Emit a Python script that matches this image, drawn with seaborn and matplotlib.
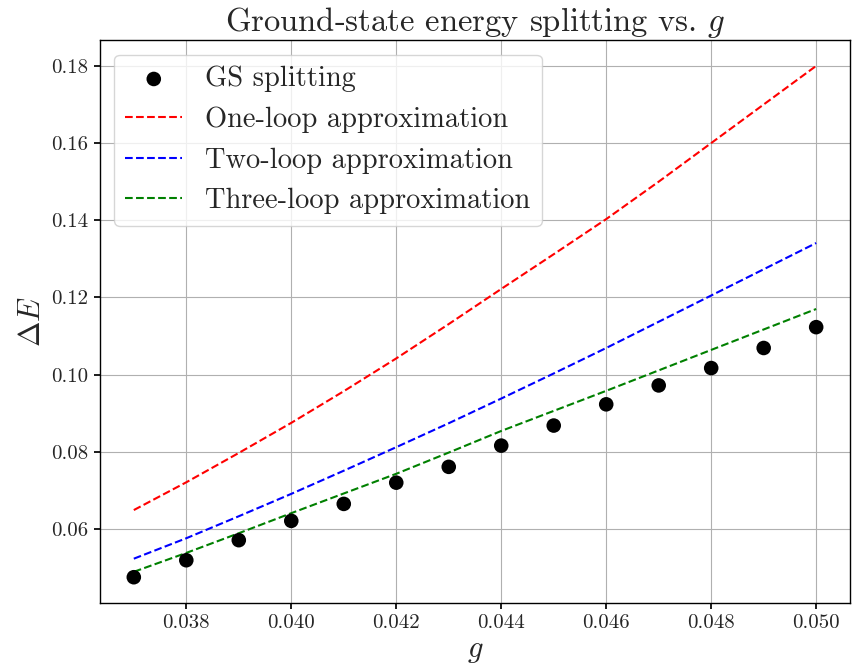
import numpy as np
import pandas as pd
import matplotlib
matplotlib.use('Agg')
import matplotlib.pyplot as plt
import seaborn as sns

# coupling values
g_values = [0.037, 0.038, 0.039, 0.040, 0.041, 0.042, 0.043,
            0.044, 0.045, 0.046, 0.047, 0.048, 0.049, 0.050]

# numerically obtained ground-state splitting
gs_splitting = [0.0475, 0.0519, 0.0571, 0.0621, 0.0665, 0.0720, 0.0761,
                0.0816, 0.0868, 0.0923, 0.0972, 0.1017, 0.1069, 0.1123]

# perturbative approximations
one_loop = [0.0649, 0.0721, 0.0797, 0.0875, 0.0957, 0.1042, 0.1131,
            0.1222, 0.1312, 0.1403, 0.1500, 0.1600, 0.1700, 0.1800]
two_loop = [0.0523, 0.0576, 0.0633, 0.0691, 0.0751, 0.0812, 0.0874,
            0.0938, 0.1003, 0.1069, 0.1137, 0.1205, 0.1273, 0.1341]
three_loop = [0.0489, 0.0538, 0.0589, 0.0641, 0.0692, 0.0743, 0.0798,
              0.0854, 0.0906, 0.0958, 0.1011, 0.1064, 0.1117, 0.1170]

df = pd.DataFrame({
    "g": g_values,
    "gs": gs_splitting,
    "one": one_loop,
    "two": two_loop,
    "three": three_loop,
})

sns.set_theme(style="ticks")
plt.rcParams['font.family'] = ['cmr10', 'DejaVu Serif']
plt.rcParams['mathtext.fontset'] = 'cm'
plt.rcParams['axes.unicode_minus'] = False
plt.rcParams['axes.formatter.use_mathtext'] = True

fig, ax = plt.subplots(figsize=(8.52, 6.72), dpi=100)
fig.subplots_adjust(left=0.117, right=0.998, top=0.94, bottom=0.103)

sns.scatterplot(data=df, x="g", y="gs", color="black", s=110, edgecolor="none",
                label="GS splitting", ax=ax, zorder=3)
sns.lineplot(data=df, x="g", y="one", color="red", linestyle="--", linewidth=1.5,
             label="One-loop approximation", ax=ax)
sns.lineplot(data=df, x="g", y="two", color="blue", linestyle="--", linewidth=1.5,
             label="Two-loop approximation", ax=ax)
sns.lineplot(data=df, x="g", y="three", color="green", linestyle="--", linewidth=1.5,
             label="Three-loop approximation", ax=ax)

ax.set_xticks([0.038, 0.040, 0.042, 0.044, 0.046, 0.048, 0.050])
ax.set_yticks([0.06, 0.08, 0.10, 0.12, 0.14, 0.16, 0.18])
ax.xaxis.set_major_formatter(matplotlib.ticker.FormatStrFormatter('%.3f'))
ax.yaxis.set_major_formatter(matplotlib.ticker.FormatStrFormatter('%.2f'))
ax.tick_params(labelsize=15, color="black", direction="out", length=4.5)
ax.grid(True, color="#b0b0b0", linewidth=0.8)
for sp in ax.spines.values():
    sp.set_color("black")
    sp.set_linewidth(1.0)

ax.set_title("Ground-state energy splitting vs. $g$", fontsize=23.5)
ax.set_xlabel("$g$", fontsize=22)
ax.set_ylabel(r"$\Delta E$", fontsize=22)

ax.legend(loc="upper left", fontsize=20.5, frameon=True, framealpha=0.8,
          edgecolor="#cccccc", fancybox=True)

plt.savefig("out.png", dpi=100)
plt.close()
